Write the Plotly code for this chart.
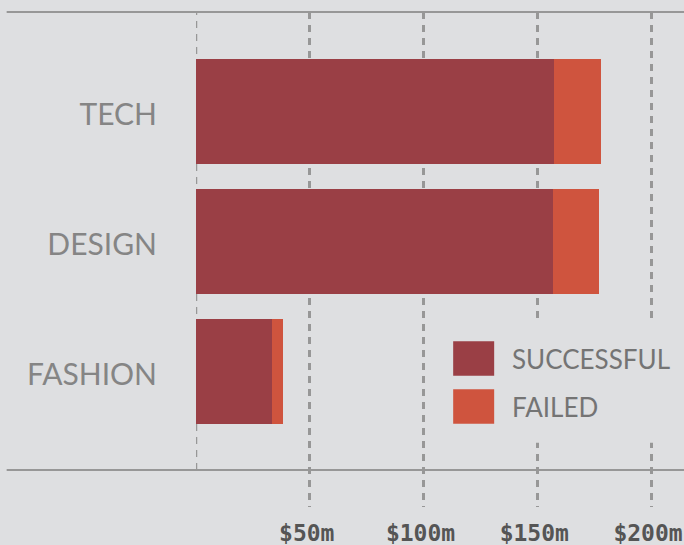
import plotly.graph_objects as go

categories = ["TECH", "DESIGN", "FASHION"]
successful = [157.4, 156.9, 33.4]
failed = [20.6, 20.2, 4.8]
tick_vals = [50, 100, 150, 200]
tick_text = ["$50m", "$100m", "$150m", "$200m"]
series_names = ["SUCCESSFUL", "FAILED"]

BG = "#dedfe1"
GRID = "#979797"
COLORS = ["#9a3f45", "#cf543e"]
DASH = "7px,6px"

fig = go.Figure()
for name, vals, color in zip(series_names, [successful, failed], COLORS):
    fig.add_trace(go.Bar(
        y=categories,
        x=vals,
        name=name,
        orientation="h",
        marker=dict(color=color, line=dict(width=0)),
        showlegend=False,
    ))

shapes = [
    # top and bottom rules
    dict(type="line", xref="paper", yref="paper", x0=-0.388, x1=1, y0=1, y1=1,
         line=dict(color=GRID, width=2), layer="above"),
    dict(type="line", xref="paper", yref="paper", x0=-0.388, x1=1, y0=0.0747, y1=0.0747,
         line=dict(color=GRID, width=2), layer="above"),
    # zero line, stops at the bottom rule
    dict(type="line", xref="x", yref="paper", x0=0, x1=0, y0=0.0747, y1=1,
         line=dict(color=GRID, width=2.5, dash=DASH), layer="below"),
    # legend backdrop hides the grid
    dict(type="rect", xref="paper", yref="paper", x0=0.50, x1=1.0, y0=0.13, y1=0.373,
         fillcolor=BG, line=dict(width=0), layer="above"),
]

annotations = []
legend_y = [0.3, 0.203]
for name, color, ly in zip(series_names, COLORS, legend_y):
    shapes.append(dict(type="rect", xref="paper", yref="paper",
                       x0=0.527, x1=0.611, y0=ly - 0.035, y1=ly + 0.035,
                       fillcolor=color, line=dict(width=0), layer="above"))
    annotations.append(dict(xref="paper", yref="paper", x=0.643, y=ly, text=name,
                            showarrow=False, xanchor="left", yanchor="middle",
                            font=dict(family="Lato", size=26, color="#747474")))

fig.update_layout(
    width=684,
    height=545,
    barmode="stack",
    bargap=0.19,
    paper_bgcolor=BG,
    plot_bgcolor=BG,
    margin=dict(l=196, r=0, t=12, b=38),
    shapes=shapes,
    annotations=annotations,
    xaxis=dict(
        range=[0, 214.5],
        tickvals=tick_vals,
        ticktext=tick_text,
        showgrid=True,
        gridcolor=GRID,
        gridwidth=2.5,
        griddash=DASH,
        zeroline=False,
        showline=False,
        ticks="",
        tickfont=dict(family="DejaVu Sans Mono", size=23, color="#555555", weight="bold"),
        ticklabelstandoff=10,
        ticklabeloverflow="allow",
        ticklabelshift=-3,
    ),
    yaxis=dict(
        type="category",
        categoryorder="array",
        categoryarray=categories,
        range=[3.042, -0.765],
        showgrid=False,
        zeroline=False,
        showline=False,
        ticks="",
        tickfont=dict(family="Lato", size=30, color="#858585"),
        ticklabelstandoff=38,
        ticklabelshift=-3,
    ),
)

fig.write_html("out.html", config={"displayModeBar": False},
               post_script="document.body.style.margin='0';")
